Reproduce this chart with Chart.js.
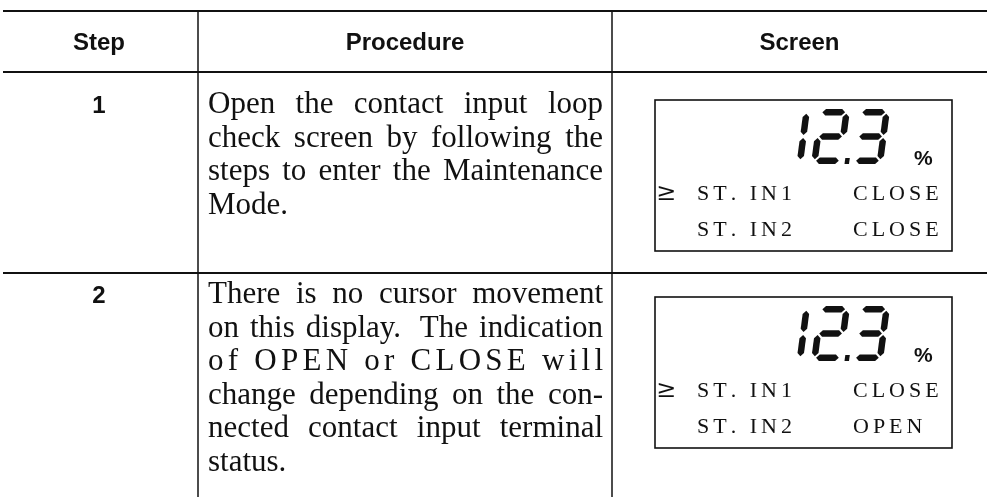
<!DOCTYPE html>
<html>
<head>
<meta charset="utf-8">
<script src="https://cdn.jsdelivr.net/npm/chart.js@4.4.1/dist/chart.umd.min.js"></script>
<style>
  html, body { margin: 0; padding: 0; background: #ffffff; }
  #wrap { position: relative; width: 987px; height: 497px; }
</style>
</head>
<body>
<div id="wrap"><canvas id="c"></canvas></div>
<script>
// ---------- data ----------
const headers = ['Step', 'Procedure', 'Screen'];
const steps = ['1', '2'];
const procedure1 = [
  'Open the contact input loop',
  'check screen by following the',
  'steps to enter the Maintenance',
  'Mode.'
];
const procedure2 = [
  'There is no cursor movement',
  'on this display.  The indication',
  'of OPEN or CLOSE will',
  'change depending on the con-',
  'nected contact input terminal',
  'status.'
];
const procedures = [procedure1, procedure2];
const readings = ['12.3', '12.3'];
const units = ['%', '%'];
const channels = ['ST. IN1', 'ST. IN2'];
const in1States = ['CLOSE', 'CLOSE'];
const in2States = ['CLOSE', 'OPEN'];
const cursorMark = '\u2265';

// ---------- layout (scale units) ----------
const LAYOUT = {
  colEdges: [0, 198, 612, 987],
  rowEdges: [11, 72, 273, 497],
  lineStartX: 3,
  headerBaseline: 50,
  firstBaselines: [113, 303],
  lineHeight: 33.6,
  textLeft: 208, textRight: 603,
  boxLeft: 655, boxRight: 952,
  boxTops: [100, 297], boxHeight: 151,
  digitTop: 9, digitH: 55, digitW: 32, digitPitch: 40, digitRight: 883, segT: 6.5, slant: 0.13,
  unitX: 914, unitBase: 65,
  cursorX: 656, chanX: 697, stateX: 853, lcdBase1: 100, lcdBase2: 136, lcdSpacing: 4
};

const SEG = {'0':'abcdef','1':'bc','2':'abged','3':'abgcd','4':'fgbc','5':'afgcd','6':'afgedc','7':'abc','8':'abcdefg','9':'abcdfg'};

function drawDigit(ctx, x0, y0, W, H, t, slant, segs, X, Y) {
  const sk = (p) => [X(x0 + p[0] + (H - p[1]) * slant), Y(y0 + p[1])];
  const g = 1.4;
  const hs = (yc, xa, xb) => [[xa, yc], [xa + t/2, yc - t/2], [xb - t/2, yc - t/2], [xb, yc], [xb - t/2, yc + t/2], [xa + t/2, yc + t/2]];
  const vs = (xc, ya, yb) => [[xc, ya], [xc + t/2, ya + t/2], [xc + t/2, yb - t/2], [xc, yb], [xc - t/2, yb - t/2], [xc - t/2, ya + t/2]];
  const L = t/2, R = W - t/2, T = t/2, M = H/2, B = H - t/2;
  const shapes = {
    a: hs(T, L + g, R - g), g: hs(M, L + g, R - g), d: hs(B, L + g, R - g),
    f: vs(L, T + g, M - g), b: vs(R, T + g, M - g), e: vs(L, M + g, B - g), c: vs(R, M + g, B - g)
  };
  for (const s of segs) {
    const pts = shapes[s].map(sk);
    ctx.beginPath();
    ctx.moveTo(pts[0][0], pts[0][1]);
    for (let i = 1; i < pts.length; i++) ctx.lineTo(pts[i][0], pts[i][1]);
    ctx.closePath();
    ctx.fill();
  }
}

function drawSpaced(ctx, text, x, y, spacing) {
  let cx = x;
  for (const ch of text) {
    ctx.fillText(ch, cx, y);
    cx += ctx.measureText(ch).width + spacing;
  }
}

function drawJustified(ctx, text, x, y, w, justify) {
  if (!justify) { ctx.fillText(text, x, y); return; }
  const tokens = text.split(/( +)/).filter(s => s.length);
  const natural = tokens.reduce((s, t) => s + ctx.measureText(t).width, 0);
  const gaps = tokens.filter(t => t[0] === ' ').length;
  const perGap = gaps ? (w - natural) / gaps : 0;
  if (perGap > 16) {
    const chars = [...text];
    const widths = chars.map(c => ctx.measureText(c).width);
    const sum = widths.reduce((a, b) => a + b, 0);
    const e = (w - sum) / (chars.length - 1);
    let cx = x;
    chars.forEach((c, i) => { ctx.fillText(c, cx, y); cx += widths[i] + e; });
    return;
  }
  let cx = x;
  for (const t of tokens) {
    if (t[0] === ' ') cx += ctx.measureText(t).width + perGap;
    else { ctx.fillText(t, cx, y); cx += ctx.measureText(t).width; }
  }
}

const tablePlugin = {
  id: 'tablePlugin',
  afterDraw(chart) {
    const ctx = chart.ctx;
    const xs = chart.scales.x, ys = chart.scales.y;
    const X = v => xs.getPixelForValue(v), Y = v => ys.getPixelForValue(v);
    const Lo = LAYOUT;
    ctx.save();
    ctx.fillStyle = '#111';
    ctx.strokeStyle = '#111';

    // horizontal rules
    ctx.lineWidth = 2;
    Lo.rowEdges.slice(0, 3).forEach(r => {
      ctx.beginPath(); ctx.moveTo(X(Lo.lineStartX), Y(r)); ctx.lineTo(X(987), Y(r)); ctx.stroke();
    });
    // vertical rules
    ctx.lineWidth = 1.5;
    Lo.colEdges.slice(1, 3).forEach(c => {
      ctx.beginPath(); ctx.moveTo(X(c), Y(Lo.rowEdges[0])); ctx.lineTo(X(c), Y(Lo.rowEdges[3])); ctx.stroke();
    });

    // headers
    ctx.textBaseline = 'alphabetic';
    ctx.textAlign = 'center';
    ctx.font = 'bold 24px "Liberation Sans", Arial, sans-serif';
    headers.forEach((h, i) => {
      ctx.fillText(h, X((Lo.colEdges[i] + Lo.colEdges[i + 1]) / 2), Y(Lo.headerBaseline));
    });

    // step numbers
    steps.forEach((s, i) => {
      ctx.fillText(s, X((Lo.colEdges[0] + Lo.colEdges[1]) / 2), Y(Lo.firstBaselines[i]));
    });

    // procedures
    ctx.textAlign = 'left';
    ctx.font = '31px "Liberation Serif", "Times New Roman", serif';
    procedures.forEach((lines, r) => {
      lines.forEach((ln, k) => {
        drawJustified(ctx, ln, X(Lo.textLeft), Y(Lo.firstBaselines[r] + k * Lo.lineHeight),
          X(Lo.textRight) - X(Lo.textLeft), k < lines.length - 1);
      });
    });

    // LCD screens
    readings.forEach((rd, r) => {
      const top = Lo.boxTops[r];
      ctx.lineWidth = 1.6;
      ctx.strokeRect(X(Lo.boxLeft), Y(top), X(Lo.boxRight) - X(Lo.boxLeft), Y(top + Lo.boxHeight) - Y(top));

      // seven-segment reading
      const digits = [];
      for (const ch of rd) {
        if (ch === '.') { if (digits.length) digits[digits.length - 1].dot = true; }
        else digits.push({ ch, dot: false });
      }
      const n = digits.length;
      digits.forEach((d, i) => {
        const x0 = Lo.digitRight - Lo.digitW - (n - 1 - i) * Lo.digitPitch;
        const y0 = top + Lo.digitTop;
        drawDigit(ctx, x0, y0, Lo.digitW, Lo.digitH, Lo.segT, Lo.slant, SEG[d.ch] || '', X, Y);
        if (d.dot) {
          const dx = x0 + Lo.digitW + 1.5, dy = y0 + Lo.digitH - 6;
          ctx.beginPath();
          ctx.moveTo(X(dx + 0.8), Y(dy)); ctx.lineTo(X(dx + 5.3), Y(dy));
          ctx.lineTo(X(dx + 4.5), Y(dy + 6)); ctx.lineTo(X(dx), Y(dy + 6));
          ctx.closePath(); ctx.fill();
        }
      });

      ctx.font = 'bold 21px "Liberation Sans", Arial, sans-serif';
      ctx.fillText(units[r], X(Lo.unitX), Y(top + Lo.unitBase));

      ctx.font = '24px "DejaVu Serif", serif';
      ctx.fillText(cursorMark, X(Lo.cursorX), Y(top + Lo.lcdBase1));
      ctx.font = '22px "Liberation Serif", "Times New Roman", serif';
      drawSpaced(ctx, channels[0], X(Lo.chanX), Y(top + Lo.lcdBase1), Lo.lcdSpacing);
      drawSpaced(ctx, in1States[r], X(Lo.stateX), Y(top + Lo.lcdBase1), Lo.lcdSpacing);
      drawSpaced(ctx, channels[1], X(Lo.chanX), Y(top + Lo.lcdBase2), Lo.lcdSpacing);
      drawSpaced(ctx, in2States[r], X(Lo.stateX), Y(top + Lo.lcdBase2), Lo.lcdSpacing);
    });
    ctx.restore();
  }
};

new Chart(document.getElementById('c'), {
  type: 'scatter',
  data: { datasets: [] },
  options: {
    responsive: true,
    maintainAspectRatio: false,
    animation: false,
    events: [],
    layout: { padding: 0 },
    plugins: { legend: { display: false }, tooltip: { enabled: false }, title: { display: false } },
    scales: {
      x: { type: 'linear', min: 0, max: 987, display: false },
      y: { type: 'linear', min: 0, max: 497, reverse: true, display: false }
    }
  },
  plugins: [tablePlugin]
});
</script>
</body>
</html>
